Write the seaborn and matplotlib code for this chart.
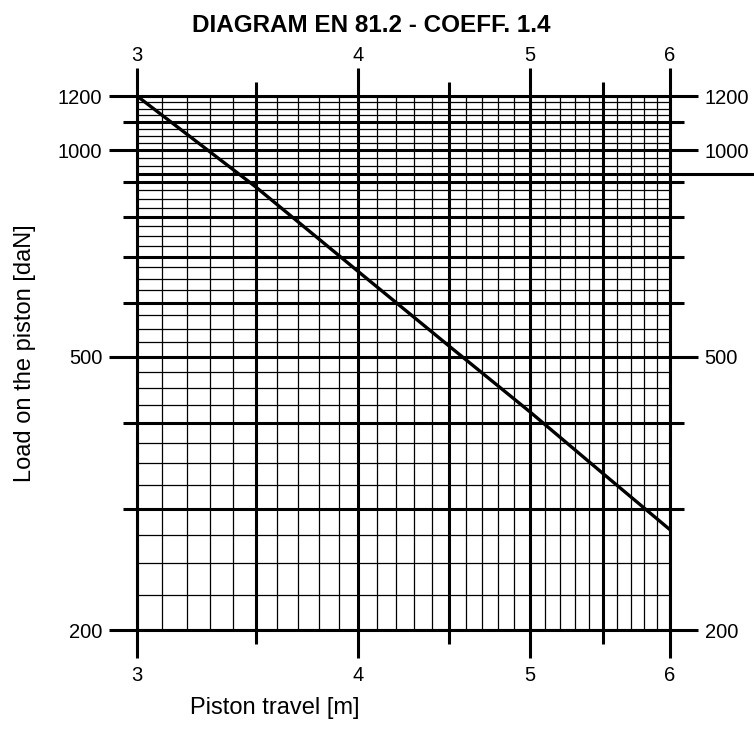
import matplotlib
matplotlib.use("Agg")
import matplotlib.pyplot as plt
import matplotlib.transforms as mtransforms
import numpy as np
import pandas as pd
import seaborn as sns
from matplotlib.ticker import NullFormatter

# Data
travel = [3.0, 3.5, 4.0, 4.5, 5.0, 5.5, 6.0]
load = [1200, 885, 666, 519, 416, 338, 280]

x_labelled = [3, 4, 5, 6]
x_half = [3.5, 4.5, 5.5]
y_labelled = [200, 500, 1000, 1200]
y_unlabelled = [300, 400, 600, 700, 800, 900, 1100]
limit_load = 925

df = pd.DataFrame({"travel": travel, "load": load})

sns.set_style("white")
plt.rcParams["font.family"] = ["Liberation Sans", "DejaVu Sans"]
plt.rcParams["text.color"] = "black"
plt.rcParams["axes.labelcolor"] = "black"
plt.rcParams["xtick.labelcolor"] = "black"
plt.rcParams["ytick.labelcolor"] = "black"

fig = plt.figure(figsize=(7.54, 7.31), dpi=100)
ax = fig.add_axes([137 / 754, 1 - 630 / 731, 533 / 754, 534 / 731])
ax.set_xscale("log")
ax.set_yscale("log")
ax.set_xlim(3, 6)
ax.set_ylim(200, 1200)

# Fine grid: every 0.1 m and every 25 daN
for x in np.arange(3.1, 6.0, 0.1):
    ax.axvline(x, color="black", lw=0.9, zorder=1)
for y in np.arange(225, 1200, 25):
    ax.axhline(y, color="black", lw=0.9, zorder=1)

# Heavy grid
for x in x_labelled + x_half:
    ax.axvline(x, color="black", lw=2.2, zorder=2)
for y in y_labelled + y_unlabelled:
    ax.axhline(y, color="black", lw=2.2, zorder=2)

# Extended limit line
ax.axhline(limit_load, xmin=0, xmax=(753 - 137) / 533, color="black", lw=2.2,
           clip_on=False, zorder=2)

sns.lineplot(data=df, x="travel", y="load", color="black", lw=2.4, ax=ax, zorder=3)

for s in ax.spines.values():
    s.set_linewidth(2.2)
    s.set_color("black")

ax.set_xticks(x_labelled, labels=[str(v) for v in x_labelled])
ax.set_xticks(x_half, minor=True)
ax.set_yticks(y_labelled, labels=[str(v) for v in y_labelled])
ax.set_yticks(y_unlabelled, minor=True)
ax.xaxis.set_minor_formatter(NullFormatter())
ax.yaxis.set_minor_formatter(NullFormatter())

ax.tick_params(which="both", direction="out", top=True, right=True, bottom=True, left=True,
               labeltop=True, labelright=True, color="black", width=2.2)
ax.tick_params(which="major", length=20, labelsize=14.5, pad=5)
ax.tick_params(axis="x", which="major", pad=6)
ax.tick_params(which="minor", length=10)

# pull the top labels a little closer to the ticks
shift = mtransforms.ScaledTranslation(0, -4 / 72, fig.dpi_scale_trans)
for tick in ax.xaxis.get_major_ticks():
    tick.label2.set_transform(tick.label2.get_transform() + shift)

ax.set_xlabel("Piston travel [m]", fontsize=17)
ax.set_ylabel("Load on the piston [daN]", fontsize=17)
ax.xaxis.set_label_coords(0.258, -0.125)
ax.yaxis.set_label_coords(-0.19, 0.519)

fig.text(371 / 754, 1 - 25 / 731, "DIAGRAM EN 81.2 - COEFF. 1.4", ha="center", va="center",
         fontsize=17.5, fontweight="bold")

fig.savefig("out.png", dpi=100)
